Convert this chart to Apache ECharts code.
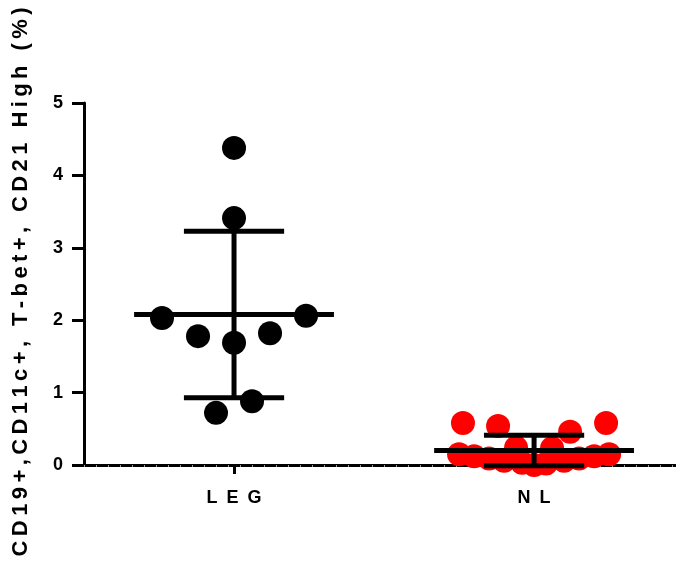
<!DOCTYPE html>
<html>
<head>
<meta charset="utf-8">
<script src="https://cdn.jsdelivr.net/npm/echarts@6/dist/echarts.min.js"></script>
<style>
  html, body { margin: 0; padding: 0; background: #fff; }
  #chart { width: 676px; height: 564px; }
</style>
</head>
<body>
<div id="chart"></div>
<script>
// groups and summary bars (mean, SD)
const groups = ['LEG', 'NL'];
const groupCenters = [0.5, 1.5];
const means = [2.08, 0.2];
const sds = [1.15, 0.21];

// individual points: [x offset from group centre, value]
const legPoints = [
    [0, 4.38], [0, 3.41], [-0.24, 2.03], [0.24, 2.06], [-0.12, 1.78],
    [0.12, 1.82], [0, 1.69], [-0.06, 0.72], [0.06, 0.88]
];
const nlPoints = [
    [-0.237, 0.58], [-0.12, 0.54], [0.12, 0.46], [0.24, 0.58],
    [-0.25, 0.15], [-0.2, 0.12], [-0.15, 0.09], [-0.1, 0.06], [-0.06, 0.24],
    [-0.04, 0.03], [0, 0.0], [0.04, 0.02], [0.06, 0.23], [0.1, 0.06],
    [0.15, 0.09], [0.2, 0.12], [0.25, 0.15]
];
const yTicks = [0, 1, 2, 3, 4, 5];
const yTitle = 'CD19+,CD11c+, T-bet+, CD21 High (%)';

// x axis runs past the right edge of the plot (axis line is cut by the page edge)
const xMax = 1.973;

const FONT = 'Liberation Sans, Arial, sans-serif';
const spaced = s => s.split('').join('\u2002');
const spacedTitle = s => s.split('').join('\u2009');

const toScatter = (pts, c) => pts.map(p => [c + p[0], p[1]]);

const chart = echarts.init(document.getElementById('chart'));

chart.setOption({
    animation: false,
    grid: { left: 84, top: 103, bottom: 99, right: 0 },
    xAxis: [{
        type: 'value',
        min: 0,
        max: xMax,
        axisLine: { show: true, onZero: false, lineStyle: { color: '#000', width: 3 } },
        axisTick: {
            show: true,
            customValues: groupCenters,
            length: 9,
            lineStyle: { color: '#000', width: 3 }
        },
        axisLabel: {
            customValues: groupCenters,
            margin: 24,
            color: '#000',
            fontWeight: 'bold',
            fontSize: 18,
            fontFamily: FONT,
            formatter: v => {
                const i = groupCenters.indexOf(v);
                return i < 0 ? '' : spaced(groups[i]);
            }
        },
        splitLine: { show: false }
    }, {
        type: 'value',
        min: 0,
        max: xMax,
        interval: 0.04,
        position: 'bottom',
        axisLine: { show: false },
        axisTick: { show: true, length: 2, lineStyle: { color: '#999', width: 1 } },
        axisLabel: { show: false },
        splitLine: { show: false }
    }],
    yAxis: {
        type: 'value',
        min: yTicks[0],
        max: yTicks[yTicks.length - 1],
        interval: 1,
        axisLine: { show: true, lineStyle: { color: '#000', width: 3 } },
        axisTick: { show: true, length: 12, lineStyle: { color: '#000', width: 3 } },
        axisLabel: {
            margin: 21,
            color: '#000',
            fontWeight: 'bold',
            fontSize: 18,
            fontFamily: FONT
        },
        splitLine: { show: false }
    },
    graphic: [{
        type: 'text',
        x: 21,
        y: 282,
        rotation: Math.PI / 2,
        style: {
            text: spacedTitle(yTitle),
            fill: '#000',
            font: 'bold 22px ' + FONT,
            textAlign: 'center',
            textVerticalAlign: 'middle'
        }
    }],
    series: [{
        type: 'scatter',
        symbolSize: 24,
        itemStyle: { color: '#000', opacity: 1 },
        data: toScatter(legPoints, groupCenters[0]),
        z: 2
    }, {
        type: 'scatter',
        symbolSize: 24,
        itemStyle: { color: '#ff0000', opacity: 1 },
        data: toScatter(nlPoints, groupCenters[1]),
        z: 2
    }, {
        type: 'custom',
        z: 3,
        data: groupCenters.map((c, i) => [c, means[i], sds[i]]),
        renderItem: (params, api) => {
            const c = api.value(0), m = api.value(1), sd = api.value(2);
            const mid = api.coord([c, m]);
            const top = api.coord([c, m + sd]);
            const bot = api.coord([c, m - sd]);
            const halfMean = api.size([0.333, 0])[0];
            const halfCap = api.size([0.167, 0])[0];
            const st = { stroke: '#000', lineWidth: 5 };
            return {
                type: 'group',
                children: [
                    { type: 'line', shape: { x1: mid[0] - halfMean, y1: mid[1], x2: mid[0] + halfMean, y2: mid[1] }, style: st },
                    { type: 'line', shape: { x1: top[0], y1: top[1], x2: bot[0], y2: bot[1] }, style: st },
                    { type: 'line', shape: { x1: top[0] - halfCap, y1: top[1], x2: top[0] + halfCap, y2: top[1] }, style: st },
                    { type: 'line', shape: { x1: bot[0] - halfCap, y1: bot[1], x2: bot[0] + halfCap, y2: bot[1] }, style: st }
                ]
            };
        }
    }]
});
</script>
</body>
</html>
